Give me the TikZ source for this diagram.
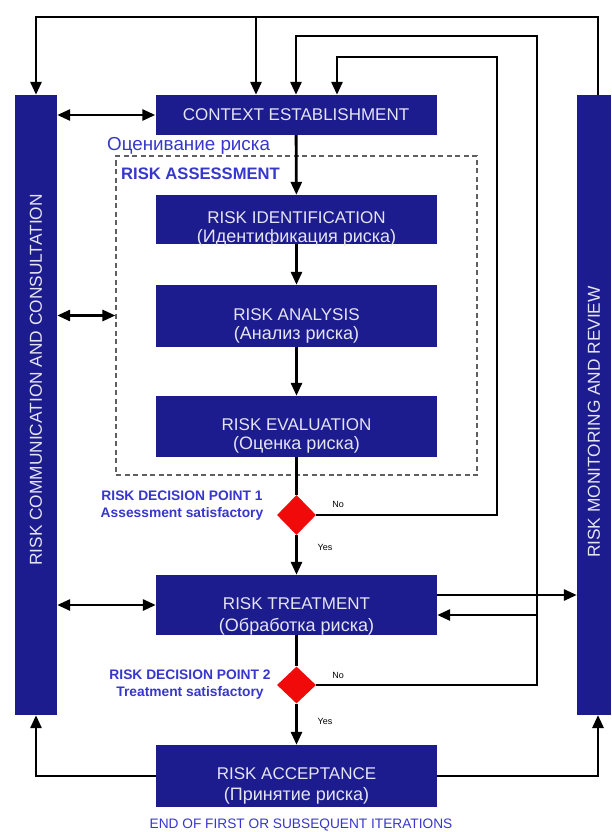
\documentclass[tikz,border=0pt]{standalone}
\usepackage{fontspec}
\setmainfont{Liberation Sans}
\usetikzlibrary{arrows.meta,shapes.geometric}
\definecolor{navy}{RGB}{28,28,142}
\definecolor{boxtext}{RGB}{228,228,242}
\definecolor{lblue}{RGB}{55,55,205}
\definecolor{dred}{RGB}{240,10,10}
\definecolor{dgray}{RGB}{95,95,95}
\newcommand{\twol}[4]{\rule{0pt}{#3}#1\\[#4]\smash{\fontsize{18}{20}\selectfont #2}}
\begin{document}
\begin{tikzpicture}[x=1pt,y=-1pt,
  box/.style={fill=navy, text=boxtext, minimum width=281pt, align=center, inner sep=0pt, font=\fontsize{17}{20}\selectfont},
  bar/.style={fill=navy, inner sep=0pt, minimum height=620pt},
  bartext/.style={rotate=90, text=boxtext, inner sep=0pt, font=\fontsize{17.3}{20}\selectfont},
  tip/.tip={Triangle[length=13pt,width=11pt]},
  ln/.style={line width=2.8pt},
  arr/.style={ln, -tip},
  darr/.style={ln, tip-tip},
  dec/.style={diamond, fill=dred, inner sep=0pt, minimum width=39pt, minimum height=40pt},
  dlab/.style={text=lblue, align=center, inner sep=0pt, font=\bfseries\fontsize{13.8}{17}\selectfont},
  yn/.style={inner sep=0pt, font=\fontsize{9}{10}\selectfont}
]
\useasboundingbox (0,0) rectangle (611,832);
\fill[white] (0,0) rectangle (611,832);

% side bars
\node[bar, minimum width=42pt] (lbar) at (36,405) {};
\node[bar, minimum width=34pt] (rbar) at (594,405) {};
\node[bartext] (lbt) at (36,380) {RISK COMMUNICATION AND CONSULTATION};
\node[bartext] (rbt) at (594,422) {RISK MONITORING AND REVIEW};

% dashed assessment frame
\node[draw=dgray, dashed, dash pattern=on 5pt off 3.5pt, line width=1.2pt, minimum width=361pt, minimum height=319pt, inner sep=0pt] (ra) at (296.5,315.5) {};
\node[anchor=west, text=lblue, inner sep=0pt, font=\fontsize{18.8}{20}\selectfont] (ocen) at (107,146) {Оценивание риска};
\node[anchor=west, text=lblue, inner sep=0pt, font=\bfseries\fontsize{16.6}{18}\selectfont] (rass) at (121,174) {RISK ASSESSMENT};

% process boxes
\node[box, minimum height=40pt] (ctx) at (296,115) {CONTEXT ESTABLISHMENT};
\node[box, minimum height=49pt] (ident) at (296.5,219.5) {\twol{RISK IDENTIFICATION}{(Идентификация риска)}{26pt}{-1pt}};
\node[box, minimum height=62pt] (anal) at (296.5,316) {\twol{RISK ANALYSIS}{(Анализ риска)}{28pt}{-1pt}};
\node[box, minimum height=61pt] (eval) at (296.5,426.5) {\twol{RISK EVALUATION}{(Оценка риска)}{26pt}{-1pt}};
\node[box, minimum height=60pt] (treat) at (296.5,605) {\twol{RISK TREATMENT}{(Обработка риска)}{30pt}{2pt}};
\node[box, minimum height=62pt] (acc) at (296.5,776) {\twol{RISK ACCEPTANCE}{(Принятие риска)}{27pt}{1pt}};

% decisions
\node[dec] (d1) at (296.5,515) {};
\node[dec, minimum height=37pt] (d2) at (296.5,685) {};
\node[dlab] (dp1) at (182,506) {RISK DECISION POINT 1\\Assessment satisfactory};
\node[dlab] (dp2) at (190,685) {RISK DECISION POINT 2\\Treatment satisfactory};

\node[text=lblue, inner sep=0pt, font=\fontsize{13.7}{16}\selectfont] (endt) at (301,825) {END OF FIRST OR SUBSEQUENT ITERATIONS};

% coordinates
\coordinate (tl) at (36,17);
\coordinate (rtop) at (598,95);
\coordinate (rbot) at (598,715);
\coordinate (tb) at (256,17);
\coordinate (l1) at (497,57);
\coordinate (l1t) at (337,57);
\coordinate (l2) at (537,36);
\coordinate (l2t) at (296,36);
\coordinate (l2b) at (537,615);

% top feedback
\draw[arr] (rtop) |- (tl) -- (lbar.north);
\draw[arr] (tb) -- (ctx.north -| tb);
\draw[arr] (d1.east) -| (l1) -- (l1t) -- (ctx.north -| l1t);
\draw[arr] (d2.east) -| (l2) -- (l2t) -- (ctx.north -| l2t);
\draw[arr] (l2b) -- (treat.east |- l2b);
\draw[arr] ([yshift=10pt]treat.east) -- ([yshift=10pt]treat.east -| rbar.west);

% communication double arrows
\draw[darr] (lbar.east |- ctx.west) -- (ctx.west);
\draw[darr] (lbar.east |- ra.west) -- (ra.west);
\draw[darr] (lbar.east |- treat.west) -- (treat.west);

% main chain
\draw[arr] (ctx) -- (ident);
\draw[arr] (ident) -- (anal);
\draw[arr] (anal) -- (eval);
\draw[ln] (eval) -- (d1);
\draw[arr] (d1) -- (treat);
\draw[ln] (treat) -- (d2);
\draw[arr] (d2) -- (acc);

% bottom returns
\draw[arr] (acc.west) -| (lbar.south);
\draw[arr] (acc.east) -| (rbot);

% yes/no labels
\node[yn] (no1) at (338,504) {No};
\node[yn] (yes1) at (325,547) {Yes};
\node[yn] (no2) at (338,675) {No};
\node[yn] (yes2) at (325,721) {Yes};
\end{tikzpicture}
\end{document}
